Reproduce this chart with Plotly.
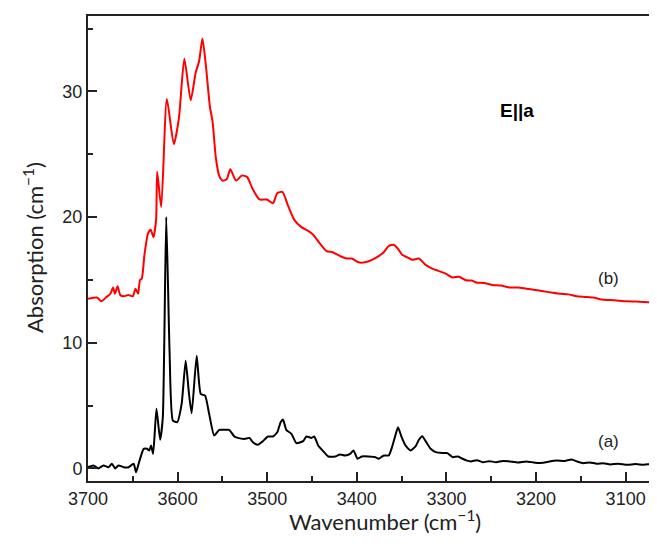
import plotly.graph_objects as go

# Curve (a): black
wn_a = [3700, 3694, 3688.4, 3682.8, 3677, 3673.4, 3669.7, 3666, 3660.3, 3654.7, 3649.1, 3646.4,
        3643.5, 3637.9, 3634.2, 3631.5, 3629.6, 3627.3, 3623.6, 3619.5, 3616.5, 3612.7, 3609,
        3605.3, 3600.4, 3595.5, 3591, 3587.3, 3584.3, 3578.7, 3574.2, 3569.3, 3564.8, 3559.2,
        3553.6, 3548, 3542.4, 3536.7, 3532.9, 3525.5, 3519.9, 3516, 3510.4, 3504.8, 3499.2,
        3493.6, 3488.8, 3485, 3482.4, 3478.7, 3473, 3467.4, 3460, 3456.2, 3450.6, 3447.6,
        3443.1, 3437.5, 3431.9, 3424.4, 3418.8, 3413.1, 3407.5, 3403.7, 3399.2, 3394.4, 3386.9,
        3379.4, 3375.6, 3370, 3364.4, 3360.7, 3357, 3354, 3350.2, 3345.7, 3340.1, 3334.5,
        3330.7, 3327, 3322.5, 3317.6, 3312, 3304.5, 3298.9, 3293.3, 3287, 3282, 3277, 3272.7,
        3266, 3259.6, 3252, 3244.6, 3237, 3229.6, 3220, 3210.9, 3201, 3192.1, 3185, 3177.2,
        3168, 3160.3, 3154, 3147.2, 3140, 3132.2, 3125, 3117.2, 3108, 3098.5, 3089, 3079.8,
        3070, 3061]
abs_a = [0.1, 0.24, 0.0, 0.24, 0.1, 0.37, 0.0, 0.24, 0.1, 0.1, 0.37, -0.3,
         0.37, 1.56, 1.56, 1.43, 1.83, 1.16, 4.74, 2.28, 4.07, 20.0, 9.37,
         3.81, 3.68, 5.13, 8.57, 5.93, 4.39, 8.97, 5.93, 5.79, 4.34, 2.62,
         3.07, 3.07, 3.07, 2.54, 2.43, 2.35, 2.43, 2.09, 1.88, 2.17, 2.54,
         2.54, 2.88, 3.68, 3.89, 3.07, 2.75, 2.01, 2.17, 2.54, 2.43, 2.54,
         1.83, 1.37, 0.95, 0.95, 1.11, 1.03, 1.16, 1.43, 0.77, 0.95, 0.95,
         0.90, 0.77, 1.03, 1.03, 1.69, 2.62, 3.28, 2.54, 1.83, 1.43, 1.75,
         2.28, 2.57, 2.09, 1.56, 1.30, 1.22, 1.22, 0.90, 0.95, 0.77, 0.62, 0.56,
         0.66, 0.50, 0.58, 0.50, 0.60, 0.56, 0.48, 0.56, 0.46, 0.45, 0.55, 0.63,
         0.60, 0.71, 0.55, 0.42, 0.48, 0.37, 0.42, 0.32, 0.38, 0.29, 0.35, 0.29,
         0.36, 0.32]

# Curve (b): red
wn_b = [3700, 3690, 3685, 3680, 3675, 3672, 3670, 3667, 3664, 3660, 3655, 3650, 3647, 3644,
        3642, 3640, 3637, 3633, 3630, 3627, 3624, 3622.8, 3618.3, 3612, 3604.2, 3598.5, 3592.5,
        3585.4, 3579.8, 3576, 3572.3, 3568.5, 3564, 3561, 3557.3, 3553.6, 3549.8, 3545.3,
        3541.2, 3534.8, 3528.4, 3522.5, 3516, 3508.6, 3500.3, 3493.6, 3488.8, 3483.1, 3476.7,
        3470, 3461.8, 3454.3, 3448.7, 3441.2, 3433.7, 3427, 3418.8, 3411.2, 3405.6, 3398.1,
        3390.7, 3383.1, 3375.6, 3370, 3364.4, 3358.8, 3354.3, 3349.4, 3343.8, 3338.2, 3330.7,
        3323.3, 3315.7, 3308.2, 3300.8, 3293.3, 3286, 3278.3, 3272, 3267, 3258, 3248.3, 3239,
        3229.6, 3220, 3210.9, 3201, 3192.1, 3183, 3173.4, 3164, 3154.7, 3145, 3136, 3127,
        3117.2, 3108, 3098.5, 3089, 3079.8, 3070, 3061]
abs_b = [13.5, 13.6, 13.3, 13.6, 13.9, 14.4, 13.9, 14.5, 13.8, 13.7, 13.8, 13.7, 14.3, 13.9,
         15.0, 15.1, 17.0, 18.7, 19.0, 18.4, 19.8, 23.6, 20.8, 29.4, 25.8, 27.9, 32.6,
         29.3, 31.5, 32.4, 34.2, 32.1, 28.8, 27.6, 24.7, 23.3, 22.9, 23.0,
         23.8, 22.9, 23.3, 23.2, 22.2, 21.4, 21.4, 21.1, 21.9, 22.0, 20.9,
         19.8, 19.2, 18.9, 18.6, 17.9, 17.3, 17.2, 16.9, 16.7, 16.7, 16.4,
         16.4, 16.6, 16.9, 17.2, 17.7, 17.8, 17.5, 17.0, 16.8, 16.6, 16.7,
         16.2, 15.9, 15.7, 15.5, 15.2, 15.25, 14.97, 14.95, 14.8, 14.75, 14.6, 14.55,
         14.4, 14.4, 14.3, 14.2, 14.1, 14.0, 13.9, 13.85, 13.7, 13.65, 13.6, 13.45,
         13.4, 13.35, 13.3, 13.28, 13.25, 13.2, 13.15]

x_ticks = [3700, 3600, 3500, 3400, 3300, 3200, 3100]
y_ticks = [0, 10, 20, 30]

fig = go.Figure()
fig.add_trace(go.Scatter(x=wn_a, y=abs_a, mode="lines",
                         line=dict(color="#000000", width=2, shape="spline", smoothing=0.5),
                         showlegend=False))
fig.add_trace(go.Scatter(x=wn_b, y=abs_b, mode="lines",
                         line=dict(color="#ff0000", width=2, shape="spline", smoothing=0.6),
                         showlegend=False))

tick_font = dict(family="Liberation Sans, Arial", size=18, color="#222222")
# Plot area in window px: left 88, right 657, top 14, bottom 481 (page has 8px body margin)
fig.update_layout(
    width=657, height=544,
    margin=dict(l=80, r=8, t=6, b=71),
    plot_bgcolor="white", paper_bgcolor="white",
    xaxis=dict(range=[3700, 3065], tickvals=x_ticks, ticks="inside", ticklen=9,
               tickwidth=1.5, tickcolor="#222", showline=True, linewidth=2,
               linecolor="#222", mirror=True, showgrid=False, zeroline=False,
               tickfont=tick_font,
               minor=dict(dtick=50, ticks="inside", ticklen=5, tickwidth=1.5,
                          tickcolor="#222", showgrid=False)),
    yaxis=dict(range=[-1.0, 36.0], tickvals=y_ticks, ticks="inside", ticklen=9,
               tickwidth=1.5, tickcolor="#222", showline=True, linewidth=2,
               linecolor="#222", mirror=False, showgrid=False, zeroline=False,
               tickfont=tick_font,
               minor=dict(dtick=5, ticks="inside", ticklen=5, tickwidth=1.5,
                          tickcolor="#222", showgrid=False)),
    annotations=[
        dict(text="Wavenumber (cm<sup>\u22121</sup>)", xref="paper", yref="paper",
             x=(385 - 88) / 569, y=-(521 - 481) / 467, xanchor="center", yanchor="middle",
             showarrow=False, font=dict(family="Lato, Carlito, sans-serif", size=22, color="#222")),
        dict(text="Absorption (cm<sup>\u22121</sup>)", xref="paper", yref="paper",
             x=(33 - 88) / 569, y=(481 - 247) / 467, xanchor="center", yanchor="middle",
             textangle=-90, showarrow=False,
             font=dict(family="Lato, Carlito, sans-serif", size=22, color="#222")),
        dict(text="<b>E||a</b>", xref="paper", yref="paper",
             x=(517 - 88) / 569, y=(481 - 109) / 467, xanchor="center", yanchor="middle",
             showarrow=False, font=dict(family="Liberation Sans, Arial", size=19, color="#000")),
        dict(text="(b)", xref="paper", yref="paper",
             x=(608 - 88) / 569, y=(481 - 278) / 467, xanchor="center", yanchor="middle",
             showarrow=False, font=dict(family="Liberation Sans, Arial", size=17, color="#222")),
        dict(text="(a)", xref="paper", yref="paper",
             x=(608 - 88) / 569, y=(481 - 441) / 467, xanchor="center", yanchor="middle",
             showarrow=False, font=dict(family="Liberation Sans, Arial", size=17, color="#222")),
    ],
)

fig.write_html("out.html")
